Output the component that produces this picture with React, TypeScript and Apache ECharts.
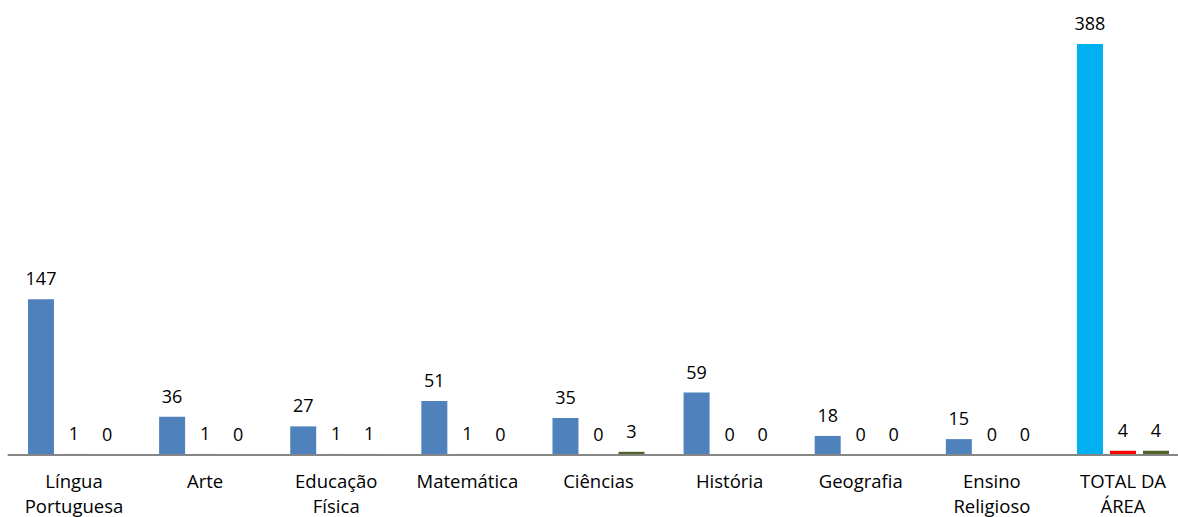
import React, { useEffect, useRef } from "react";
import * as echarts from "echarts";

const categories = [
  "Língua\nPortuguesa",
  "Arte",
  "Educação\nFísica",
  "Matemática",
  "Ciências",
  "História",
  "Geografia",
  "Ensino\nReligioso",
  "TOTAL DA\nÁREA",
];
const series1 = [147, 36, 27, 51, 35, 59, 18, 15, 388];
const series2 = [1, 1, 1, 1, 0, 0, 0, 0, 4];
const series3 = [0, 0, 1, 0, 3, 0, 0, 0, 4];

const FONT = "'Open Sans', sans-serif";

export default function App() {
  const ref = useRef<HTMLDivElement>(null);
  useEffect(() => {
    const chart = echarts.init(ref.current!, null, { renderer: "svg" });
    const label = {
      show: true,
      position: "top" as const,
      distance: 12,
      color: "#000",
      fontFamily: FONT,
      fontSize: 18,
    };
    chart.setOption({
      animation: false,
      grid: {
        left: 8.44,
        width: 1180.1,
        top: 44,
        bottom: 62,
        containLabel: false,
        outerBoundsMode: "none",
      },
      xAxis: {
        type: "category",
        data: categories,
        z: 5,
        axisLine: { lineStyle: { color: "#868686", width: 2 } },
        axisTick: { show: false },
        axisLabel: {
          color: "#000",
          fontFamily: FONT,
          fontSize: 18.5,
          lineHeight: 25,
          margin: 13,
          interval: 0,
        },
      },
      yAxis: {
        type: "value",
        min: 0,
        max: 388,
        show: false,
        splitLine: { show: false },
      },
      series: [
        {
          type: "bar",
          data: series1.map((v, i) => ({
            value: v,
            itemStyle: { color: i === series1.length - 1 ? "#00B0F0" : "#4F81BD" },
          })),
          barWidth: 26,
          barGap: "27%",
          barCategoryGap: "29%",
          label,
        },
        {
          type: "bar",
          data: series2,
          barWidth: 26,
          itemStyle: { color: "#FF0000" },
          label,
        },
        {
          type: "bar",
          data: series3,
          barWidth: 26,
          itemStyle: { color: "#4F6228" },
          label,
        },
      ],
    });
    return () => chart.dispose();
  }, []);
  return (
    <div
      ref={ref}
      style={{ position: "fixed", left: 0, top: 0, width: 1178, height: 517, background: "#fff", overflow: "hidden" }}
    />
  );
}
